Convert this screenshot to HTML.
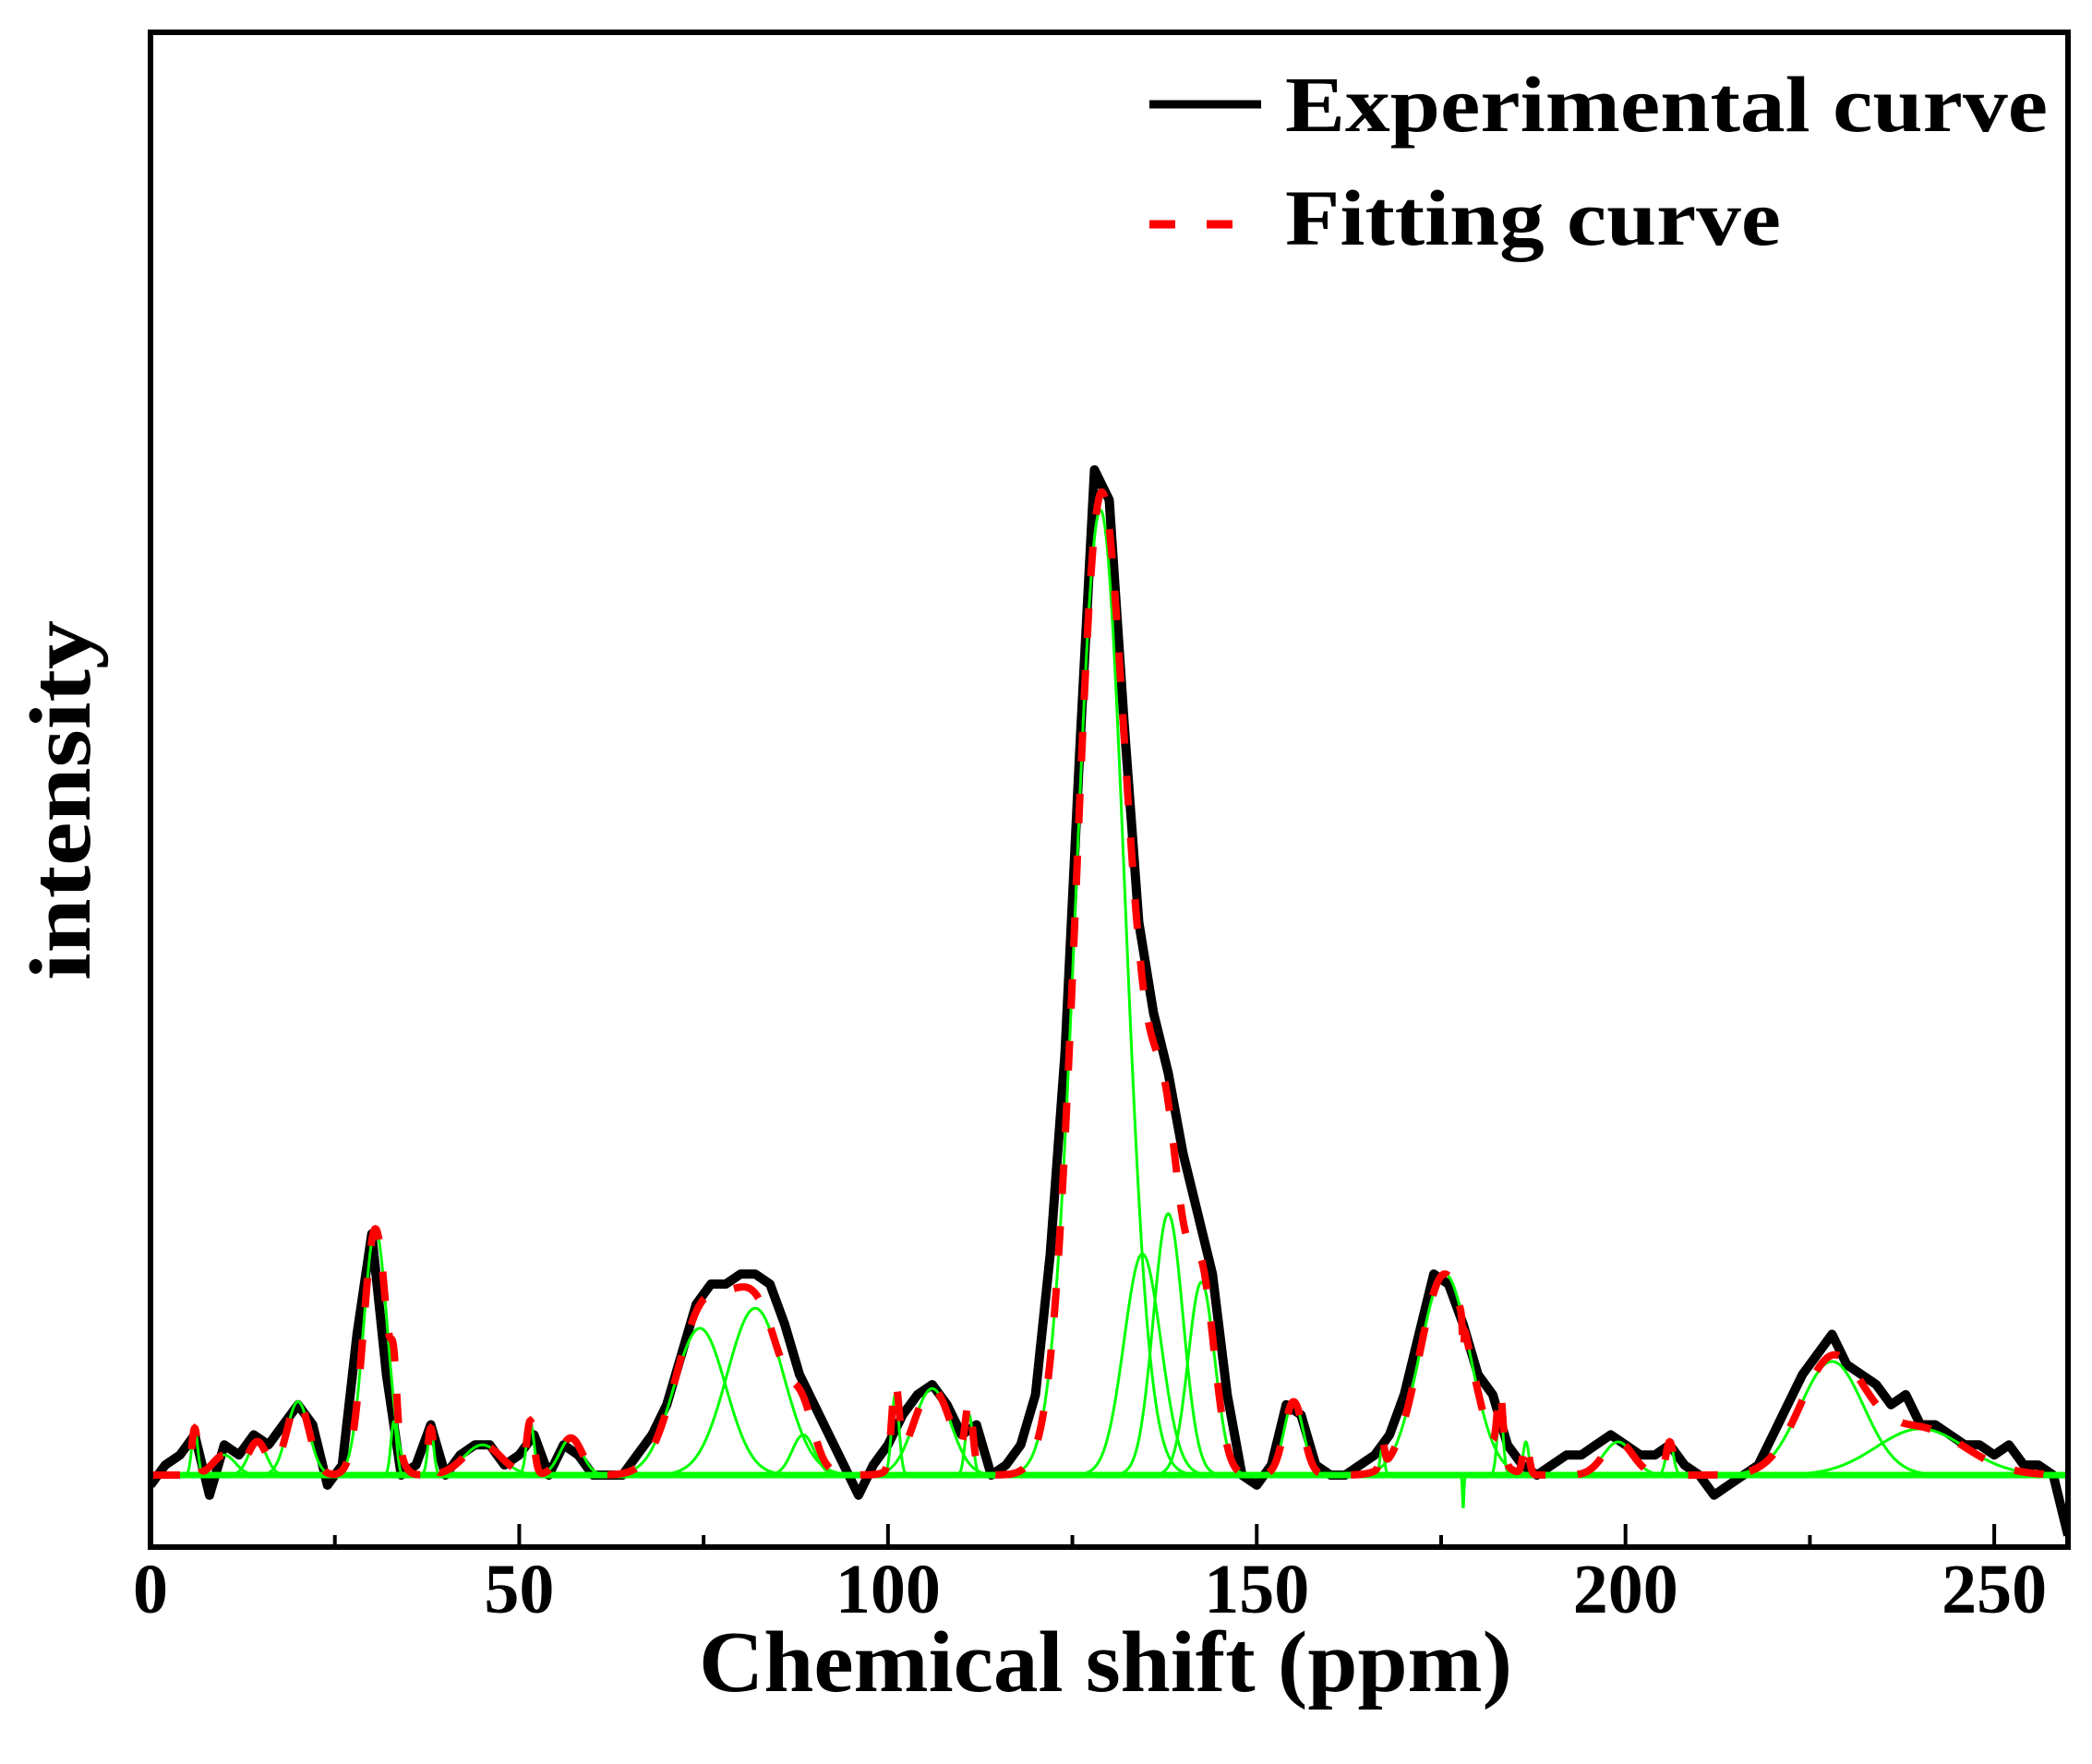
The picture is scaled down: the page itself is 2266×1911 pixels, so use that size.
<!DOCTYPE html>
<html><head><meta charset="utf-8">
<style>
html,body{margin:0;padding:0;background:#fff;}
svg{display:block;}
text{font-family:"Liberation Serif",serif;font-weight:bold;fill:#000;}
</style></head>
<body>
<svg id="chart" width="2266" height="1911" viewBox="0 0 2266 1911" xmlns="http://www.w3.org/2000/svg">
  <g id="plot"></g>
  <rect x="163" y="35" width="2077" height="1641" fill="none" stroke="#000" stroke-width="6"/>
  <g id="ticks"></g>
  <text x="757" y="1832" font-size="94" textLength="881" lengthAdjust="spacingAndGlyphs">Chemical shift (ppm)</text>
  <text transform="translate(97,867) rotate(-90)" font-size="94" text-anchor="middle" textLength="390" lengthAdjust="spacingAndGlyphs">intensity</text>
  <g>
    <line x1="1245" y1="113" x2="1366" y2="113" stroke="#000" stroke-width="9"/>
    <text x="1392" y="142" font-size="86" textLength="826" lengthAdjust="spacingAndGlyphs">Experimental curve</text>
    <line x1="1245" y1="243" x2="1350" y2="243" stroke="#f00" stroke-width="9" stroke-dasharray="28,34"/>
    <text x="1392" y="265" font-size="86" textLength="537" lengthAdjust="spacingAndGlyphs">Fitting curve</text>
  </g>
</svg>
<script>
// Experimental curve, sampled every 2 ppm (a.u., main peak = 100)
const expPpm = [];
for (let i = 0; i <= 130; i++) expPpm.push(i * 2);
const expValues = [-1,1,2,4,-2,3,2,4,3,5,7,5,-1,1,14,24,10,0,1,5,0,2,3,3,1,2,4,0,3,2,0,0,0,2,4,7,12,17,19,19,20,20,19,15,10,7,4,1,-2,1,3,6,8,9,7,4,5,0,1,3,8,22,42,72,100,97,75,55,46,40,32,26,20,8,0,-1,1,7,6,1,0,0,1,2,4,8,14,20,19,15,10,8,3,1,0,1,2,2,3,4,3,2,2,3,1,0,-2,-1,0,1,4,7,10,12,14,11,10,9,7,8,5,5,4,3,3,2,3,1,1,0,-6];
// Fitted gaussian components
const compCenters = [6,10,14.5,20,30.5,33,38,45,51.5,57,74.5,82,88.5,101,106,111,128.8,134.5,138,142.5,155,167,175.5,178,183,186.5,199,206,228,240];
const compHeights = [4.6,2,3.3,7.3,24.5,5.3,4.6,3,5.3,3.7,14.6,16.6,4,8,8.6,6,96,22,26,19.2,7.3,2.6,20,-3.3,6.6,3.3,3.3,3.3,11.3,4.6];
const compWidths = [0.4,1.5,1.2,1.5,1.6,0.4,0.4,2.5,0.5,1.5,3.5,3.8,1.5,0.5,2.5,0.5,3.3,2.5,2.0,1.8,1.3,0.3,3.4,0.1,0.4,0.4,2,0.5,4.3,6];
const xTickValues = [0,50,100,150,200,250];
const xMinorValues = [25,75,125,175,225];

const X0 = 163, X1 = 2240, XMIN = 0, XMAX = 260;
const Y0 = 1598, YUNIT = 10.89; // px per a.u.
const xs = v => X0 + (v - XMIN) / (XMAX - XMIN) * (X1 - X0);
const ys = v => Y0 - v * YUNIT;
const NS = 'http://www.w3.org/2000/svg';
const plot = document.getElementById('plot');
const ticks = document.getElementById('ticks');

function gauss(x, c, h, s) { return h * Math.exp(-0.5 * ((x - c) / s) ** 2); }
function pathFrom(pts) { return pts.map((p, i) => (i ? 'L' : 'M') + p[0].toFixed(1) + ' ' + p[1].toFixed(1)).join(''); }

const defs = document.createElementNS(NS, 'defs');
defs.innerHTML = '<clipPath id="clip"><rect x="163" y="35" width="2077" height="1641"/></clipPath>';
document.getElementById('chart').appendChild(defs);
plot.setAttribute('clip-path', 'url(#clip)');

// experimental
const expPts = expPpm.map((p, i) => [xs(p), ys(expValues[i])]);
const exp = document.createElementNS(NS, 'path');


exp.setAttribute('d', pathFrom(expPts));
exp.setAttribute('fill', 'none'); exp.setAttribute('stroke', '#000');
exp.setAttribute('stroke-width', '10'); exp.setAttribute('stroke-linejoin', 'round');
plot.appendChild(exp);

// baseline
const base = document.createElementNS(NS, 'line');


base.setAttribute('x1', xs(XMIN)); base.setAttribute('x2', xs(XMAX));
base.setAttribute('y1', ys(0)); base.setAttribute('y2', ys(0));
base.setAttribute('stroke', '#00ff00'); base.setAttribute('stroke-width', '7');
plot.appendChild(base);

// components
const step = 0.05;
compCenters.forEach((c, k) => {
  const pts = [];
  for (let x = XMIN; x <= XMAX + 1e-9; x += step) pts.push([xs(x), ys(gauss(x, c, compHeights[k], compWidths[k]))]);
  const p = document.createElementNS(NS, 'path');
  
  
  p.setAttribute('d', pathFrom(pts));
  p.setAttribute('fill', 'none'); p.setAttribute('stroke', '#00ff00'); p.setAttribute('stroke-width', '3');
  plot.appendChild(p);
});

// fitting curve
const fitPts = [];
for (let x = XMIN; x <= XMAX + 1e-9; x += step) {
  let s = 0;
  compCenters.forEach((c, k) => { s += gauss(x, c, compHeights[k], compWidths[k]); });
  fitPts.push([xs(x), ys(s)]);
}
const fit = document.createElementNS(NS, 'path');


fit.setAttribute('d', pathFrom(fitPts));
fit.setAttribute('fill', 'none'); fit.setAttribute('stroke', '#f00');
fit.setAttribute('stroke-width', '8'); fit.setAttribute('stroke-dasharray', '32,35');
plot.appendChild(fit);

// ticks
xTickValues.forEach(v => {
  const t = document.createElementNS(NS, 'line');
  
  
  t.setAttribute('x1', xs(v)); t.setAttribute('x2', xs(v));
  t.setAttribute('y1', 1676); t.setAttribute('y2', 1651);
  t.setAttribute('stroke', '#000'); t.setAttribute('stroke-width', '4');
  ticks.appendChild(t);
  const l = document.createElementNS(NS, 'text');
  
  
  l.setAttribute('x', xs(v)); l.setAttribute('y', 1747);
  l.setAttribute('font-size', '76'); l.setAttribute('text-anchor', 'middle');
  l.textContent = v;
  ticks.appendChild(l);
});
xMinorValues.forEach(v => {
  const t = document.createElementNS(NS, 'line');
  
  
  t.setAttribute('x1', xs(v)); t.setAttribute('x2', xs(v));
  t.setAttribute('y1', 1676); t.setAttribute('y2', 1663);
  t.setAttribute('stroke', '#000'); t.setAttribute('stroke-width', '4');
  ticks.appendChild(t);
});
</script>
</body></html>
